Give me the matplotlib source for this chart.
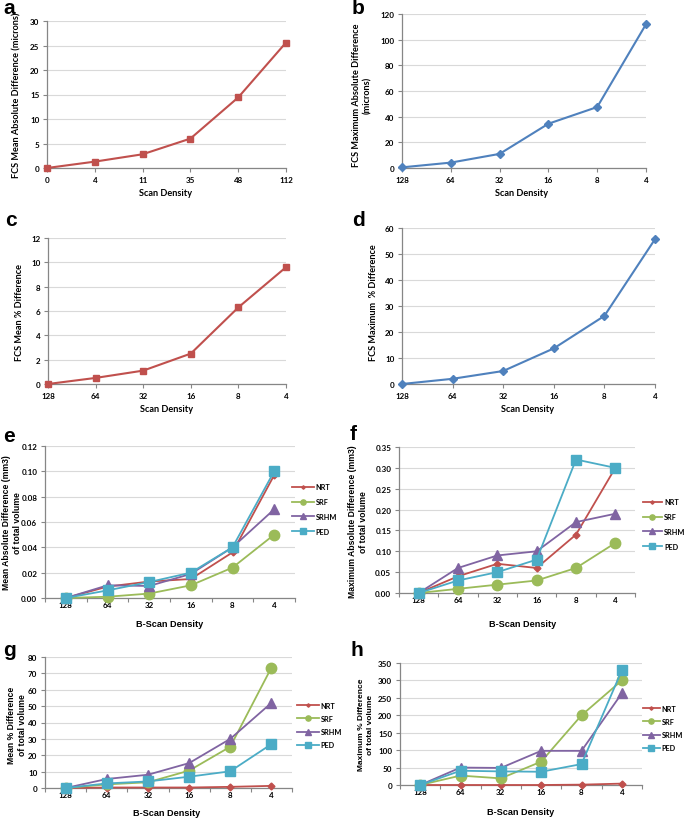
import numpy as np
import matplotlib
matplotlib.use("Agg")
import matplotlib.pyplot as plt
from matplotlib.ticker import MultipleLocator, FixedLocator, FormatStrFormatter

plt.rcParams['font.family'] = ['Lato', 'DejaVu Sans']

W, H = 685, 820

# ---- data ----
scan_a = ['0', '4', '11', '35', '48', '112']
scan = ['128', '64', '32', '16', '8', '4']

fcs_mean_abs = [0.0, 1.3, 2.8, 6.0, 14.4, 25.6]
fcs_max_abs = [0.5, 4.2, 11.0, 34.5, 47.5, 112.0]
fcs_mean_pct = [0.0, 0.5, 1.1, 2.5, 6.3, 9.6]
fcs_max_pct = [0.0, 2.0, 5.0, 13.7, 26.2, 55.7]

series = ['NRT', 'SRF', 'SRHM', 'PED']
e_vals = {'NRT': [0, 0.009, 0.013, 0.015, 0.036, 0.097],
          'SRF': [0, 0.001, 0.0035, 0.010, 0.024, 0.050],
          'SRHM': [0, 0.010, 0.0095, 0.019, 0.040, 0.070],
          'PED': [0, 0.006, 0.0126, 0.020, 0.040, 0.100]}
f_vals = {'NRT': [0, 0.04, 0.07, 0.06, 0.14, 0.30],
          'SRF': [0, 0.01, 0.02, 0.03, 0.06, 0.12],
          'SRHM': [0, 0.06, 0.09, 0.10, 0.17, 0.19],
          'PED': [0, 0.03, 0.05, 0.08, 0.32, 0.30]}
g_vals = {'NRT': [0, 0.3, 0.3, 0.3, 0.7, 1.3],
          'SRF': [0, 2.2, 3.5, 10.6, 25.2, 73.5],
          'SRHM': [0, 5.5, 8.1, 15.2, 30.0, 52.0],
          'PED': [0, 2.8, 4.0, 6.9, 10.2, 26.8]}
h_vals = {'NRT': [0, 0, 0, 0, 1, 4],
          'SRF': [0, 27, 19, 67, 200, 300],
          'SRHM': [0, 50, 49, 98, 98, 263],
          'PED': [0, 41, 39, 38, 60, 329]}

RED = '#C0504D'
BLUE = '#4F81BD'
colors = {'NRT': '#C0504D', 'SRF': '#9BBB59', 'SRHM': '#8064A2', 'PED': '#4BACC6'}
markers = {'NRT': ('D', 3.5), 'SRF': ('o', 7.5), 'SRHM': ('^', 7.5), 'PED': ('s', 7.5)}
AXC = '#868686'
GRID = '#D9D9D9'

fig = plt.figure(figsize=(W / 100, H / 100), dpi=100)


def px_axes(l, t, r, b):
    return fig.add_axes([l / W, 1 - b / H, (r - l) / W, (b - t) / H])


def style(ax, ymax, ystep, fmt):
    ax.set_ylim(0, ymax)
    ax.yaxis.set_major_locator(MultipleLocator(ystep))
    ax.yaxis.set_major_formatter(FormatStrFormatter(fmt))
    ax.grid(axis='y', color=GRID, lw=0.8)
    ax.set_axisbelow(True)
    for s in ['top', 'right']:
        ax.spines[s].set_visible(False)
    for s in ['left', 'bottom']:
        ax.spines[s].set_color(AXC)
        ax.spines[s].set_linewidth(0.9)
    ax.tick_params(axis='both', which='both', colors=AXC, labelcolor='black',
                   labelsize=5.8, length=3, width=0.8, pad=2.5)
    for lab in ax.get_xticklabels() + ax.get_yticklabels():
        lab.set_fontweight('bold')


def panel_letter(x, y, s):
    fig.text(x / W, 1 - y / H, s, fontsize=15, fontweight='bold',
             family='Liberation Sans', ha='left', va='center')


def ylab(x, y, s, fam='Lato', size=6.6):
    fig.text(x / W, 1 - y / H, s, rotation=90, ha='center', va='center',
             fontsize=size, fontweight='bold', family=fam, linespacing=1.3)


def xlab(x, y, s, fam='Lato'):
    fig.text(x / W, 1 - y / H, s, ha='center', va='center',
             fontsize=6.6, fontweight='bold', family=fam)


def single(ax, labels, vals, color, marker, ms, ymax, ystep):
    x = np.arange(len(vals))
    ax.plot(x, vals, color=color, lw=1.5, marker=marker, ms=ms, clip_on=False, zorder=3)
    ax.set_xlim(0, len(vals) - 1)
    ax.set_xticks(x)
    ax.set_xticklabels(labels)
    style(ax, ymax, ystep, '%d')


def multi(ax, vals, ymax, ystep, fmt, leg_x, leg_y, hl, ls):
    x = np.arange(len(scan))
    for s in series:
        m, ms = markers[s]
        ax.plot(x, vals[s], color=colors[s], lw=1.3, marker=m, ms=ms, label=s,
                clip_on=False, zorder=3)
    ax.set_xlim(-0.5, len(scan) - 0.5)
    ax.set_xticks(x)
    ax.set_xticklabels(scan)
    ax.xaxis.set_minor_locator(FixedLocator(np.arange(-0.5, len(scan), 1.0)))
    style(ax, ymax, ystep, fmt)
    ax.tick_params(axis='x', which='major', length=0)
    ax.legend(loc='center left', bbox_to_anchor=(leg_x / W, 1 - leg_y / H),
              bbox_transform=fig.transFigure, frameon=False,
              markerscale=0.5, handlelength=hl, handletextpad=0.3,
              labelspacing=ls, borderpad=0, borderaxespad=0,
              prop={'weight': 'bold', 'size': 5.2})


# a
ax = px_axes(47, 22, 286, 169)
single(ax, scan_a, fcs_mean_abs, RED, 's', 5, 30, 5)
panel_letter(3, 8, 'a')
ylab(17, 95, 'FCS Mean Absolute Difference (microns)')
xlab(166, 194, 'Scan Density')

# b
ax = px_axes(402, 15, 646, 169)
single(ax, scan, fcs_max_abs, BLUE, 'D', 4, 120, 20)
panel_letter(352, 8, 'b')
ylab(362, 95, 'FCS Maximum Absolute Difference\n(microns)')
xlab(522, 194, 'Scan Density')

# c
ax = px_axes(48, 239, 286, 385)
single(ax, scan, fcs_mean_pct, RED, 's', 5, 12, 2)
panel_letter(5, 220, 'c')
ylab(20, 313, 'FCS Mean % Difference')
xlab(167, 410, 'Scan Density')

# d
ax = px_axes(402, 229, 655, 385)
single(ax, scan, fcs_max_pct, BLUE, 'D', 4, 60, 10)
panel_letter(352, 220, 'd')
ylab(373, 303, 'FCS Maximum  % Difference')
xlab(528, 410, 'Scan Density')

# e
ax = px_axes(45, 447, 295, 599)
multi(ax, e_vals, 0.12, 0.02, '%.2f', 292, 510, 3.0, 1.1)
panel_letter(3, 437, 'e')
ylab(12, 523, 'Mean Absolute Difference (mm3)\nof total volume', 'Liberation Sans', 6.2)
xlab(170, 625, 'B-Scan Density', 'Liberation Sans')

# f
ax = px_axes(399, 448, 635, 594)
multi(ax, f_vals, 0.35, 0.05, '%.2f', 643, 525, 2.6, 1.1)
panel_letter(350, 435, 'f')
ylab(358, 522, 'Maximum Absolute Difference (mm3)\nof total volume', 'Liberation Sans', 6.2)
xlab(523, 625, 'B-Scan Density', 'Liberation Sans')

# g
ax = px_axes(45, 658, 292, 789)
multi(ax, g_vals, 80, 10, '%d', 297, 726, 3.0, 0.85)
panel_letter(3, 650, 'g')
ylab(17, 725, 'Mean % Difference\nof total volume', 'Liberation Sans', 6.2)
xlab(167, 814, 'B-Scan Density', 'Liberation Sans')

# h
ax = px_axes(400, 664, 642, 786)
multi(ax, h_vals, 350, 50, '%d', 643, 729, 2.3, 0.85)
panel_letter(350, 650, 'h')
ylab(366, 725, 'Maximum % Difference\nof total volume', 'Liberation Sans', 6.0)
xlab(521, 813, 'B-Scan Density', 'Liberation Sans')

fig.savefig('out.png', dpi=100)
